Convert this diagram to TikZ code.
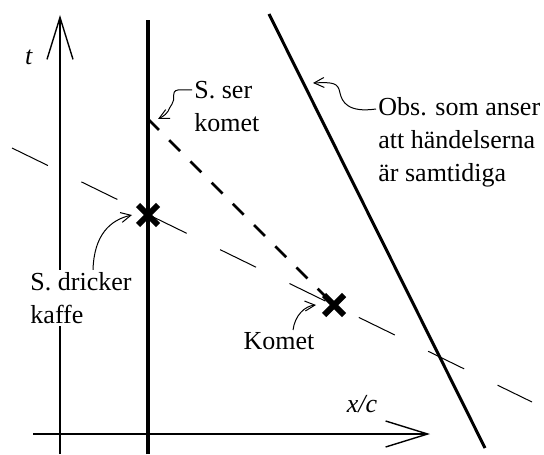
\documentclass[tikz,border=0pt]{standalone}
\usepackage{fontspec}
\setmainfont{Liberation Serif}
\usepackage{tikz}
\usetikzlibrary{arrows.meta, shapes.misc}
\tikzset{
  axisline/.style={line width=0.7pt, -{Straight Barb[length=21pt, width=13pt]}},
  worldline/.style={line width=1.7pt},
  obsline/.style={line width=1.5pt},
  simline/.style={line width=0.5pt, dash pattern=on 20pt off 18.6pt},
  lightline/.style={line width=1.4pt, dash pattern=on 7.7pt off 7.3pt},
  pointer/.style={line width=0.5pt, -{Straight Barb[length=5pt, width=5pt]}},
  event/.style={cross out, draw, line width=3pt, minimum size=7pt, inner sep=0pt},
  txt/.style={font=\fontsize{13}{16.5}\selectfont, align=left, inner sep=1pt}
}

\begin{document}
\begin{tikzpicture}[x=0.5pt, y=-0.5pt]
  \useasboundingbox (0,0) rectangle (544,454);

  % Axes
  \coordinate (tbot) at (60,454);
  \coordinate (ttop) at (60,15);
  \coordinate (xleft) at (33,434);
  \coordinate (xright) at (430,434);
  \draw[axisline] (tbot) -- (ttop);
  \draw[axisline] (xleft) -- (xright);
  \node[txt] (tlbl) at (29,57) {\textit{t}};
  \node[txt] (xlbl) at (362,404) {\textit{x/c}};

  % World lines
  \coordinate (wtop) at (148,20);
  \coordinate (wbot) at (148,454);
  \draw[worldline] (wbot) -- (wtop);
  \coordinate (obstop) at (269,14);
  \coordinate (obsbot) at (485,448);
  \draw[obsline] (obstop) -- (obsbot);

  % Events
  \coordinate (ser) at (148,119);
  \node[event] (kaffe) at (148,215) {};
  \node[event] (komet) at (334,305) {};

  % Simultaneity and light signal
  \coordinate (simA) at (12,148);
  \coordinate (simB) at (532,402);
  \draw[simline] (simA) -- (simB);
  \draw[lightline] (ser) -- (komet.center);

  % Labels
  \node[txt, anchor=west] (serlbl) at (192,107) {S. ser\\komet};
  \node[txt, anchor=west] (obslbl) at (376,142) {Obs. som anser\\att händelserna\\är samtidiga};
  \node[txt, fill=white] (kaffelbl) at (81,298) {S. dricker\\kaffe};
  \node[txt] (kometlbl) at (279,341) {Komet};
  \coordinate (obsmark) at (313,83);

  % Pointers
  \draw[pointer] ([yshift=8.5pt]serlbl.west) -- (178,90)
    .. controls (170,91) and (176,100) .. (172,104)
    .. controls (168,109) and (170,113) .. ([xshift=5pt]ser);
  \draw[pointer] ([yshift=16.5pt]obslbl.west) .. controls (348,113) and (342,102) .. (340,93)
    .. controls (338,83) and (334,82) .. (obsmark);
  \draw[pointer] ([xshift=6pt]kaffelbl.north) .. controls (94,235) and (110,220) .. ([xshift=-3pt]kaffe.west);
  \draw[pointer] ([xshift=7pt]kometlbl.north) .. controls (295,315) and (305,306) .. ([xshift=-4pt]komet.west);
\end{tikzpicture}
\end{document}
